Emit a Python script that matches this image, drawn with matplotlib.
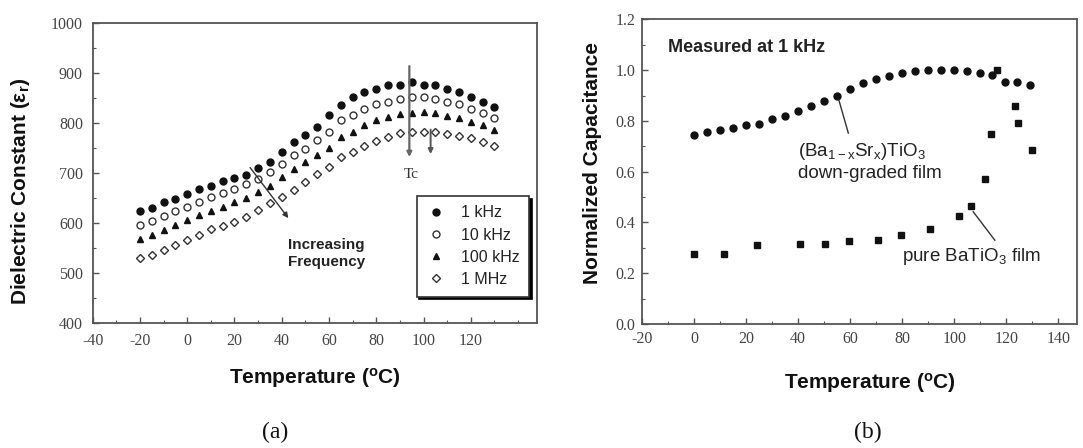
import matplotlib
matplotlib.use("Agg")
import matplotlib.pyplot as plt
from matplotlib.ticker import MultipleLocator, FormatStrFormatter

plt.rcParams['font.family'] = ['Liberation Sans', 'DejaVu Sans']
plt.rcParams['mathtext.default'] = 'regular'
plt.rcParams['axes.unicode_minus'] = False

# (a) dielectric constant vs temperature, four frequencies
temp_a = [-20, -15, -10, -5, 0, 5, 10, 15, 20, 25, 30, 35, 40, 45, 50, 55,
          60, 65, 70, 75, 80, 85, 90, 95, 100, 105, 110, 115, 120, 125, 130]
eps_1k = [625, 630, 642, 649, 659, 669, 675, 685, 690, 697, 710, 722, 742, 762, 777, 792,
          817, 837, 853, 862, 869, 877, 877, 883, 877, 877, 869, 862, 853, 843, 832]
eps_10k = [597, 605, 615, 625, 633, 643, 652, 660, 669, 679, 689, 702, 719, 737, 749, 767,
           782, 807, 817, 829, 838, 843, 848, 852, 852, 849, 842, 838, 829, 820, 810]
eps_100k = [568, 577, 587, 597, 607, 617, 625, 632, 642, 650, 662, 675, 693, 709, 722, 737,
            750, 773, 783, 797, 807, 812, 818, 820, 822, 820, 815, 810, 803, 797, 787]
eps_1M = [530, 537, 547, 557, 567, 577, 588, 595, 603, 613, 627, 640, 653, 667, 682, 699,
          713, 732, 743, 755, 765, 773, 780, 783, 783, 782, 778, 775, 770, 763, 755]
freq_labels = ['1 kHz', '10 kHz', '100 kHz', '1 MHz']

# (b) normalized capacitance at 1 kHz
temp_graded = [0, 5, 10, 15, 20, 25, 30, 35, 40, 45, 50, 55, 60, 65, 70, 75,
               80, 85, 90, 95, 100, 105, 110, 114.5, 119.5, 124, 129]
cap_graded = [0.745, 0.756, 0.765, 0.774, 0.782, 0.789, 0.809, 0.818, 0.838, 0.858, 0.877,
              0.900, 0.926, 0.950, 0.967, 0.976, 0.987, 0.996, 0.999, 1.0, 0.999, 0.996,
              0.987, 0.979, 0.955, 0.953, 0.943]
temp_pure = [0, 11.6, 24.3, 40.7, 50.3, 59.7, 70.7, 79.7, 90.7, 101.7, 106.4,
             111.8, 114.1, 116.3, 123.3, 124.5, 129.8]
cap_pure = [0.277, 0.277, 0.310, 0.317, 0.317, 0.326, 0.330, 0.350, 0.373, 0.425, 0.466,
            0.570, 0.748, 1.0, 0.857, 0.791, 0.685]

tick_col = '#444444'
spine_col = '#555555'
lab_font = dict(fontsize=15, fontweight='bold', color='#111111', va='center')

fig = plt.figure(figsize=(10.83, 4.48), dpi=100)
ax1 = fig.add_axes([0.0856, 0.2783, 0.4102, 0.6696])
ax2 = fig.add_axes([0.5928, 0.2768, 0.4017, 0.680])


def style_axes(ax, pad):
    for sp in ax.spines.values():
        sp.set_color(spine_col)
        sp.set_linewidth(1.3)
    ax.tick_params(which='both', direction='in', colors=spine_col, labelcolor=tick_col,
                   labelsize=11.5, pad=pad)
    ax.tick_params(which='major', length=4, width=1)
    ax.tick_params(which='minor', length=2.5, width=0.8)
    ax.tick_params(top=False, right=False, which='both')
    for lab in ax.get_xticklabels() + ax.get_yticklabels():
        lab.set_family('Liberation Serif')


# ---- panel (a)
mk = dict(linestyle='none', markersize=5)
ax1.plot(temp_a, eps_1k, marker='o', color='#111111', label=freq_labels[0], **mk)
ax1.plot(temp_a, eps_10k, marker='o', mfc='white', mec='#333333', mew=1,
         label=freq_labels[1], **mk)
ax1.plot(temp_a, eps_100k, marker='^', color='#111111', label=freq_labels[2], **mk)
ax1.plot(temp_a, eps_1M, marker='D', mfc='white', mec='#333333', mew=1,
         label=freq_labels[3], linestyle='none', markersize=4.2)

ax1.set_xlim(-40, 148)
ax1.set_ylim(400, 1000)
ax1.set_xticks([-40, -20, 0, 20, 40, 60, 80, 100, 120])
ax1.xaxis.set_minor_locator(MultipleLocator(10))
ax1.yaxis.set_major_locator(MultipleLocator(100))
ax1.yaxis.set_minor_locator(MultipleLocator(50))
style_axes(ax1, 7)

ax1.set_xlabel('Temperature ($^o$C)', **lab_font)
ax1.xaxis.set_label_coords(0.5, -0.182)
ax1.set_ylabel('Dielectric Constant (ε$_r$)', **lab_font)
ax1.yaxis.set_label_coords(-0.163, 0.44)

leg = ax1.legend(loc='lower left', bbox_to_anchor=(0.729, 0.089), borderaxespad=0,
                 fontsize=11.5, frameon=True, fancybox=False, borderpad=0.6,
                 labelspacing=0.45, handletextpad=1.0, handlelength=1.2,
                 shadow={'color': 'black', 'alpha': 1})
leg.get_frame().set_edgecolor('#333333')
leg.get_frame().set_linewidth(1.2)
for t in leg.get_texts():
    t.set_color('#222222')

# Curie temperature markers
ax1.annotate('', xy=(94, 727), xytext=(94, 920),
             arrowprops=dict(arrowstyle='-|>', color='#666666', lw=1.6, mutation_scale=7))
ax1.annotate('', xy=(103, 733), xytext=(103, 793),
             arrowprops=dict(arrowstyle='-|>', color='#555555', lw=1.4, mutation_scale=7))
ax1.text(95, 698, 'Tc', family='Liberation Serif', fontsize=11, color='#333333',
         ha='center', va='center')

ax1.annotate('', xy=(43.5, 606), xytext=(25.9, 716),
             arrowprops=dict(arrowstyle='-|>', color='#333333', lw=1, mutation_scale=8))
ax1.text(42.8, 540, 'Increasing\nFrequency', fontsize=11, fontweight='bold',
         color='#222222', ha='left', va='center', linespacing=1.25)

# ---- panel (b)
ax2.plot(temp_graded, cap_graded, marker='o', color='#111111', linestyle='none',
         markersize=5)
ax2.plot(temp_pure, cap_pure, marker='s', color='#111111', linestyle='none',
         markersize=5)

ax2.set_xlim(-20, 147.2)
ax2.set_ylim(0, 1.2)
ax2.xaxis.set_major_locator(MultipleLocator(20))
ax2.xaxis.set_minor_locator(MultipleLocator(10))
ax2.yaxis.set_major_locator(MultipleLocator(0.2))
ax2.yaxis.set_minor_locator(MultipleLocator(0.1))
ax2.yaxis.set_major_formatter(FormatStrFormatter('%.1f'))
style_axes(ax2, 5)

ax2.set_xlabel('Temperature ($^o$C)', **lab_font)
ax2.xaxis.set_label_coords(0.524, -0.194)
ax2.set_ylabel('Normalized Capacitance', **lab_font)
ax2.yaxis.set_label_coords(-0.113, 0.528)

ax2.text(-10, 1.088, 'Measured at 1 kHz', fontsize=13, fontweight='bold',
         color='#222222', ha='left', va='center')
ax2.text(40, 0.679, '(Ba$_{1-x}$Sr$_x$)TiO$_3$', fontsize=13.5, color='#222222',
         ha='left', va='center')
ax2.text(40, 0.594, 'down-graded film', fontsize=13.5, color='#222222',
         ha='left', va='center')
ax2.plot([55.6, 59.3], [0.884, 0.752], color='#333333', lw=1)
ax2.text(80, 0.264, 'pure BaTiO$_3$ film', fontsize=13.5, color='#222222',
         ha='left', va='center')
ax2.plot([107.3, 115.6], [0.442, 0.33], color='#333333', lw=1)

# panel captions
fig.text(275 / 1083, 1 - 432 / 448, '(a)', family='Liberation Serif', fontsize=17,
         ha='center', va='center', color='#111111')
fig.text(868 / 1083, 1 - 432 / 448, '(b)', family='Liberation Serif', fontsize=17,
         ha='center', va='center', color='#111111')

fig.savefig('out.png', dpi=100)
